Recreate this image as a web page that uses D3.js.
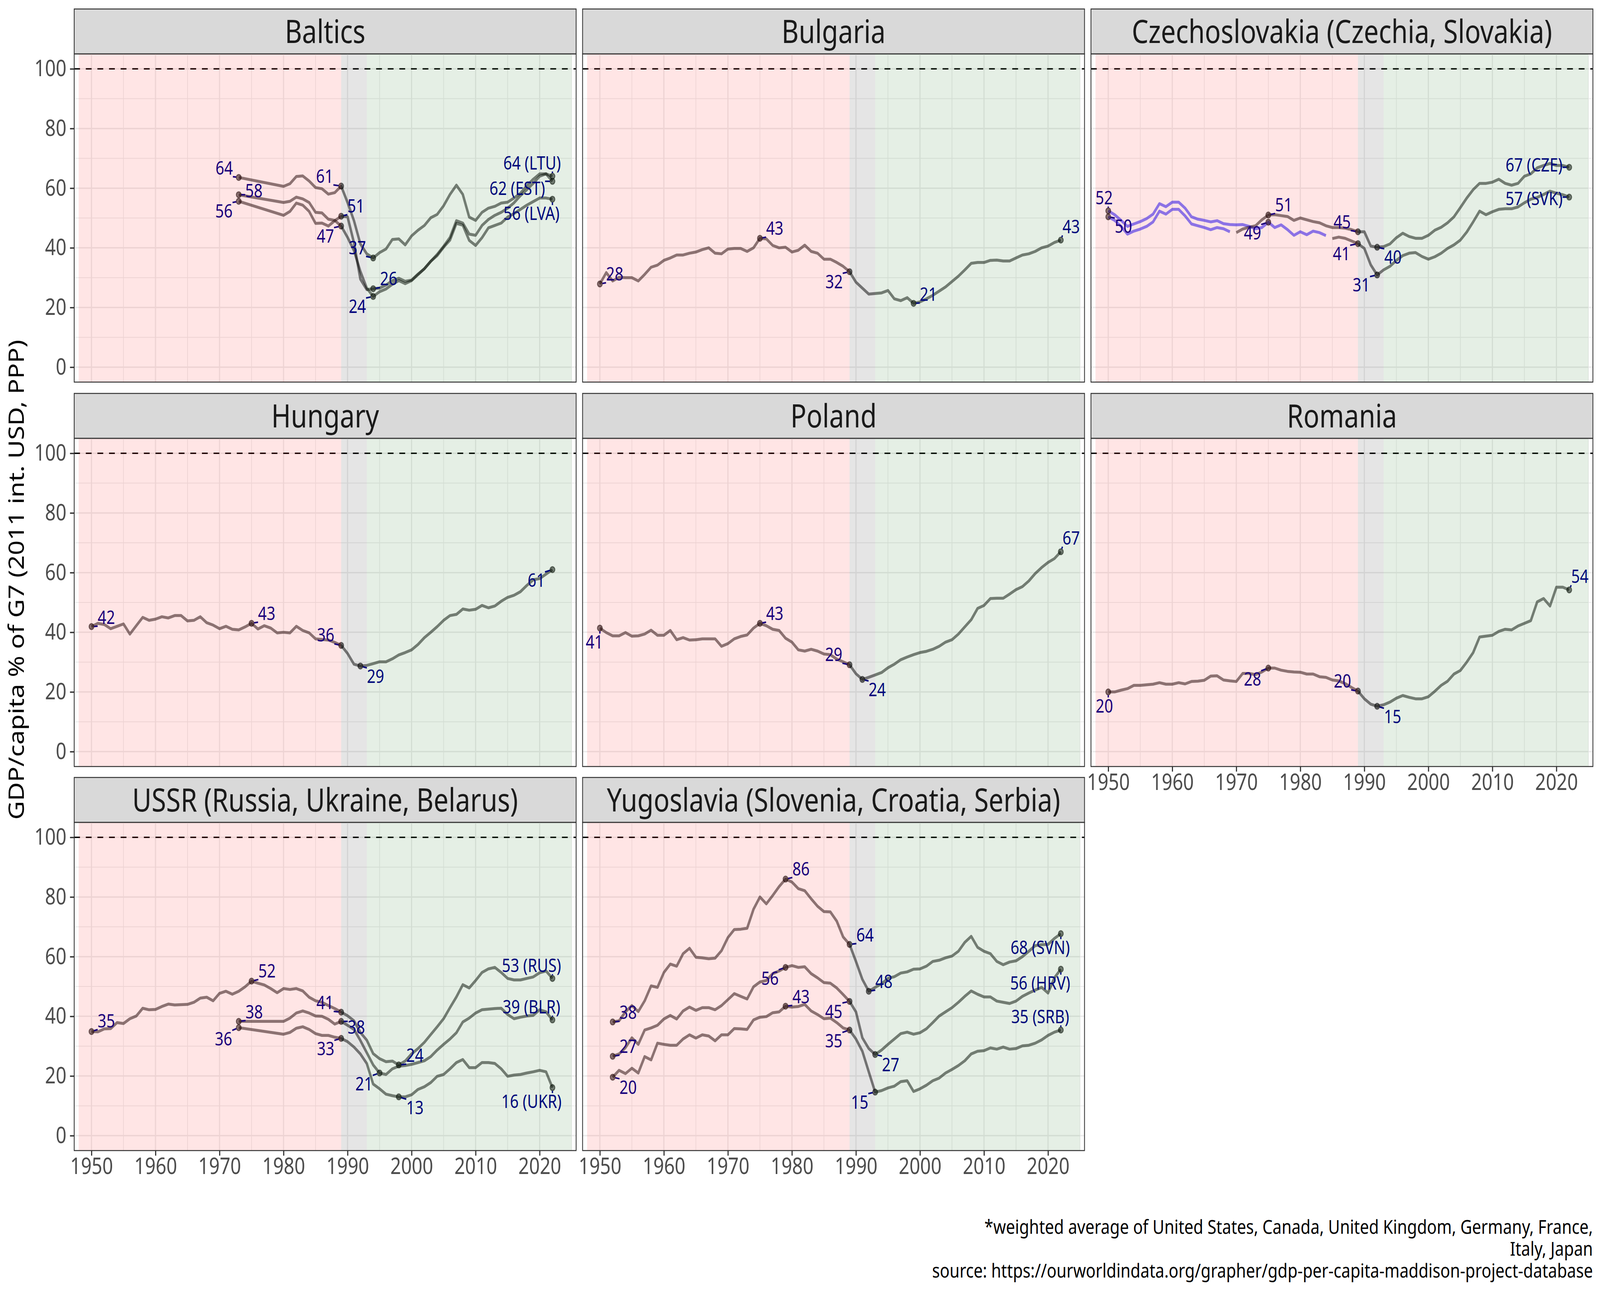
<!DOCTYPE html>
<html>
<head>
<meta charset="utf-8">
<script src="https://cdn.jsdelivr.net/npm/d3@7"></script>
<style>
  html, body { margin: 0; padding: 0; background: #fff; overflow: hidden; }
  #chart { display: block; width: 100vw; height: 100vh; }
  text { font-family: "Noto Sans", sans-serif; }
</style>
</head>
<body>
<svg id="chart"></svg>
<script>
// ---- data -------------------------------------------------------------
const xTicks = [1950, 1960, 1970, 1980, 1990, 2000, 2010, 2020];
const yTicks = [0, 20, 40, 60, 80, 100];
const eraStarts = [1948, 1989, 1993];
const eraEnds = [1989, 1993, 2025];
const g7Level = 100;

// Baltics and the later Soviet republics: 1973, then 1980-2022
const sovYears = [1973].concat(d3.range(1980, 2023));
const estValues = [63.6, 60.6, 61.5, 63.9, 64.1, 62.4, 60.2, 59.8, 58.0, 58.5, 60.7,
  55.2, 49.1, 41.3, 38.0, 36.6, 38.4, 39.6, 42.8, 43.0, 41.0,
  44.0, 45.9, 47.5, 50.1, 51.2, 54.1, 57.9, 61.0, 57.9, 50.3,
  49.2, 51.9, 53.3, 53.9, 55.0, 55.3, 56.7, 58.3, 60.8, 63.0,
  64.8, 64.8, 62.3];
const lvaValues = [57.8, 55.2, 55.6, 57.0, 56.4, 55.2, 51.9, 51.7, 49.6, 49.2, 47.3,
  43.5, 39.1, 32.1, 26.5, 23.7, 25.3, 26.2, 27.8, 29.0, 28.0,
  29.0, 31.0, 33.0, 35.5, 37.4, 40.2, 42.6, 48.2, 47.6, 42.5,
  40.8, 43.4, 46.7, 47.5, 48.3, 50.3, 51.5, 52.9, 54.3, 55.5,
  56.7, 56.7, 56.3];
const ltuValues = [55.6, 50.9, 52.2, 55.0, 54.3, 52.2, 48.2, 48.3, 47.3, 49.1, 50.6,
  50.4, 41.7, 29.5, 26.0, 26.3, 26.5, 27.5, 29.0, 29.8, 28.8,
  29.2, 31.2, 33.0, 35.5, 37.8, 40.5, 43.5, 49.1, 48.3, 44.6,
  44.2, 47.5, 49.5, 50.9, 51.9, 53.3, 55.1, 57.5, 59.5, 61.6,
  64.0, 64.8, 64.0];

const fullYears = d3.range(1950, 2023);
const bgrValues = [27.9, 31.7, 28.9, 30.1, 30.0, 30.0, 28.9, 31.1, 33.5, 34.2,
  35.8, 36.6, 37.6, 37.6, 38.2, 38.6, 39.4, 40.0, 38.2, 38.0,
  39.6, 39.8, 39.8, 38.8, 40.0, 43.2, 43.0, 40.8, 40.0, 40.2,
  38.6, 39.2, 40.9, 38.8, 38.2, 36.2, 36.2, 35.1, 33.8, 32.0,
  28.5, 26.5, 24.5, 24.7, 24.9, 25.7, 22.9, 22.3, 23.3, 21.4,
  21.9, 22.9, 24.1, 25.5, 26.9, 28.7, 30.5, 32.6, 34.8, 35.1,
  35.1, 35.8, 35.9, 35.6, 35.6, 36.6, 37.6, 38.0, 38.8, 40.0,
  40.6, 41.8, 42.6];

const czePurpleYears = d3.range(1950, 1985);
const czePurpleValues = [52.4, 51.1, 49.2, 47.2, 48.0, 48.8, 49.8, 51.3, 54.8, 53.8,
  55.3, 55.3, 53.3, 50.4, 49.6, 49.2, 48.7, 49.1, 48.1, 47.8,
  47.7, 47.8, 47.2, 46.4, 46.8, 48.6, 46.8, 47.7, 46.1, 44.2,
  45.4, 44.4, 45.6, 45.1, 44.1];
const svkPurpleYears = d3.range(1950, 1970);
const svkPurpleValues = [50.4, 49.2, 47.2, 44.6, 45.6, 46.3, 47.2, 48.7, 52.3, 51.3,
  52.9, 52.9, 50.7, 48.0, 47.4, 46.8, 46.1, 46.8, 46.4, 45.4];
const czeGreyYears = d3.range(1970, 2023);
const czeGreyValues = [45.1, 46.3, 46.9, 47.4, 49.4, 51.0, 51.1, 50.8, 50.5, 49.2,
  50.0, 49.4, 48.8, 48.4, 47.4, 46.8, 46.8, 46.6, 46.1, 45.4,
  45.4, 40.6, 40.2, 40.4, 41.3, 43.4, 44.9, 43.8, 43.2, 43.2,
  44.2, 45.9, 46.9, 48.4, 50.4, 53.5, 56.7, 59.5, 61.6, 61.6,
  62.0, 63.0, 61.6, 61.0, 61.6, 64.0, 64.8, 66.8, 67.6, 68.3,
  67.6, 67.6, 67.0];
const svkGreyYears = d3.range(1985, 2023);
const svkGreyValues = [43.1, 43.6, 43.2, 42.3, 41.4,
  39.8, 34.3, 30.9, 32.6, 33.8, 35.8, 37.4, 38.2, 38.4, 37.1,
  36.2, 37.0, 38.2, 39.8, 41.0, 42.6, 45.3, 48.7, 52.3, 51.1,
  52.1, 52.9, 53.1, 53.1, 53.7, 55.1, 56.3, 56.9, 57.9, 59.0,
  58.3, 57.8, 57.0];

const hunValues = [41.9, 43.0, 42.6, 41.2, 42.0, 42.8, 39.4, 42.2, 45.0, 44.0,
  44.4, 45.2, 44.8, 45.6, 45.6, 43.8, 44.0, 45.2, 43.2, 42.4,
  41.2, 42.0, 41.0, 40.8, 41.8, 43.0, 41.1, 42.2, 41.4, 39.8,
  40.0, 39.8, 42.0, 40.6, 39.8, 37.8, 37.6, 37.4, 36.6, 35.6,
  32.9, 29.3, 28.7, 28.9, 29.5, 30.1, 30.1, 31.1, 32.4, 33.2,
  34.1, 35.9, 38.2, 40.0, 41.9, 44.0, 45.6, 46.0, 47.8, 47.4,
  47.7, 49.0, 48.2, 48.8, 50.4, 51.7, 52.4, 53.6, 55.7, 57.6,
  58.0, 59.5, 61.0];
const polValues = [41.4, 39.9, 38.8, 38.8, 39.9, 38.7, 38.8, 39.4, 40.7, 39.0,
  39.0, 40.6, 37.5, 38.2, 37.4, 37.5, 37.8, 37.8, 37.8, 35.3,
  36.2, 37.8, 38.6, 39.1, 41.4, 43.0, 42.2, 41.0, 40.6, 38.0,
  36.7, 34.1, 33.7, 34.3, 33.7, 32.7, 32.5, 31.0, 30.1, 29.1,
  26.1, 24.2, 24.9, 25.7, 26.5, 28.1, 29.3, 30.8, 31.7, 32.5,
  33.2, 33.6, 34.3, 35.3, 36.7, 37.5, 39.4, 41.8, 44.2, 48.0,
  49.0, 51.3, 51.4, 51.4, 52.8, 54.3, 55.3, 57.2, 59.7, 61.7,
  63.4, 64.7, 67.0];
const rouValues = [20.0, 20.0, 20.6, 21.1, 22.2, 22.2, 22.4, 22.6, 23.1, 22.6,
  22.6, 23.1, 22.7, 23.5, 23.6, 23.9, 25.3, 25.4, 24.0, 23.7,
  23.5, 26.2, 26.2, 25.8, 26.7, 28.0, 28.0, 27.3, 26.9, 26.7,
  26.6, 26.0, 26.0, 25.1, 24.9, 24.0, 23.7, 22.8, 21.5, 20.3,
  17.7, 15.9, 15.2, 15.7, 16.6, 17.9, 18.8, 18.2, 17.7, 17.7,
  18.4, 20.2, 22.2, 23.6, 26.0, 27.2, 30.0, 33.2, 38.4, 38.7,
  39.0, 40.3, 41.0, 40.8, 42.1, 43.0, 43.9, 50.2, 51.3, 48.8,
  55.1, 55.1, 54.2];

const rusValues = [34.9, 34.8, 35.8, 35.9, 37.9, 37.6, 39.2, 40.1, 42.7, 42.2,
  42.3, 43.3, 44.1, 43.8, 43.9, 44.0, 44.7, 46.1, 46.4, 45.2,
  47.7, 48.4, 47.4, 48.4, 49.9, 51.8, 51.1, 50.5, 49.3, 47.9,
  49.3, 49.0, 49.3, 48.5, 46.4, 45.2, 44.7, 43.6, 42.6, 41.4,
  40.2, 38.5, 34.6, 32.0, 27.5, 25.8, 24.8, 25.0, 23.7, 25.0,
  27.4, 29.2, 31.3, 33.9, 36.5, 39.2, 42.9, 46.5, 50.6, 49.5,
  52.0, 54.7, 55.9, 56.4, 54.7, 52.7, 52.2, 52.2, 52.7, 53.2,
  54.6, 55.2, 52.7];
const blrValues = [38.3, 38.3, 39.4, 41.1, 41.8, 41.1, 40.1, 40.0, 39.0, 37.4, 38.3,
  37.0, 35.6, 31.9, 27.8, 23.7, 21.0, 20.5, 22.4, 23.3, 23.5,
  23.9, 24.5, 25.1, 26.5, 28.7, 30.6, 32.4, 34.5, 38.1, 39.4,
  41.1, 42.2, 42.4, 42.6, 42.7, 40.6, 39.2, 39.7, 40.1, 40.3,
  42.2, 41.5, 38.8];
const ukrValues = [36.2, 34.0, 34.6, 36.0, 36.5, 35.6, 34.2, 33.6, 33.6, 33.0, 32.6,
  31.5, 29.7, 27.4, 24.2, 17.3, 15.7, 13.9, 13.4, 13.0, 13.0,
  13.7, 15.5, 16.4, 17.8, 19.9, 20.5, 22.4, 24.5, 25.5, 22.8,
  22.8, 24.5, 24.5, 24.2, 22.4, 19.9, 20.3, 20.5, 21.0, 21.4,
  21.9, 21.4, 16.1];

const yugYears = d3.range(1952, 2023);
const svnValues = [38.1, 38.5, 41.5, 43.6, 41.6, 45.2, 50.2, 49.7,
  54.7, 57.5, 56.8, 61.0, 62.8, 59.8, 59.6, 59.3, 59.5, 62.0,
  66.4, 69.1, 69.2, 69.5, 75.9, 80.0, 77.7, 80.5, 83.5, 86.0,
  85.0, 82.8, 82.1, 79.4, 76.9, 75.1, 75.0, 71.9, 66.6, 64.1,
  58.4, 52.4, 48.4, 49.7, 50.9, 52.7, 53.3, 54.5, 54.9, 55.8,
  55.9, 56.8, 58.4, 58.8, 59.6, 60.2, 61.8, 64.8, 66.8, 63.1,
  61.8, 61.0, 58.4, 57.3, 58.2, 58.6, 60.0, 61.8, 63.7, 64.0,
  64.1, 66.1, 67.7];
const hrvValues = [26.6, 27.4, 29.5, 32.8, 30.6, 35.4, 36.1, 37.0,
  39.1, 40.3, 39.1, 41.8, 43.1, 42.0, 42.9, 42.9, 42.2, 43.6,
  45.6, 47.6, 46.7, 45.8, 49.9, 51.5, 52.0, 54.3, 55.2, 56.4,
  57.0, 56.4, 56.6, 54.3, 52.9, 51.3, 51.1, 49.5, 47.3, 45.0,
  41.5, 32.8, 29.2, 27.2, 28.7, 30.6, 32.4, 34.2, 34.7, 34.0,
  34.5, 35.8, 37.9, 40.1, 41.5, 42.9, 44.7, 46.7, 48.5, 47.4,
  46.5, 46.5, 45.1, 44.7, 44.3, 45.1, 46.7, 47.8, 48.8, 49.7,
  47.8, 52.9, 55.8];
const srbValues = [19.6, 21.9, 20.8, 22.6, 21.0, 26.5, 25.4, 31.0,
  30.6, 30.3, 30.3, 32.4, 33.8, 32.7, 33.8, 33.4, 31.8, 33.8,
  33.8, 35.9, 35.8, 35.6, 38.8, 39.7, 39.9, 41.2, 41.5, 43.4,
  43.1, 43.3, 44.0, 41.8, 40.6, 39.2, 39.4, 37.9, 36.1, 35.4,
  32.4, 28.3, 21.4, 14.6, 15.1, 16.0, 16.6, 18.1, 18.4, 14.8,
  15.7, 16.9, 18.4, 19.3, 21.0, 22.2, 23.5, 25.1, 27.4, 28.3,
  28.5, 29.4, 29.0, 29.7, 29.0, 29.2, 30.1, 30.3, 31.0, 32.1,
  33.6, 34.7, 35.4];

// labelled points: [series, year, suffix]
const baltLabels = [["EST", 1973, ""], ["LVA", 1973, ""], ["LTU", 1973, ""],
  ["EST", 1989, ""], ["LTU", 1989, ""], ["LVA", 1989, ""],
  ["EST", 1994, ""], ["LTU", 1994, ""], ["LVA", 1994, ""],
  ["LTU", 2022, "(LTU)"], ["EST", 2022, "(EST)"], ["LVA", 2022, "(LVA)"]];
const bgrLabels = [["BGR", 1950, ""], ["BGR", 1975, ""], ["BGR", 1989, ""], ["BGR", 1999, ""], ["BGR", 2022, ""]];
const czLabels = [["CZP", 1950, ""], ["SKP", 1950, ""], ["CZE", 1975, ""], ["CZP", 1975, ""],
  ["CZE", 1989, ""], ["SVK", 1989, ""], ["CZE", 1992, ""], ["SVK", 1992, ""],
  ["CZE", 2022, "(CZE)"], ["SVK", 2022, "(SVK)"]];
const hunLabels = [["HUN", 1950, ""], ["HUN", 1975, ""], ["HUN", 1989, ""], ["HUN", 1992, ""], ["HUN", 2022, ""]];
const polLabels = [["POL", 1950, ""], ["POL", 1975, ""], ["POL", 1989, ""], ["POL", 1991, ""], ["POL", 2022, ""]];
const rouLabels = [["ROU", 1950, ""], ["ROU", 1975, ""], ["ROU", 1989, ""], ["ROU", 1992, ""], ["ROU", 2022, ""]];
const ussrLabels = [["RUS", 1950, ""], ["RUS", 1975, ""], ["BLR", 1973, ""], ["UKR", 1973, ""],
  ["RUS", 1989, ""], ["BLR", 1989, ""], ["UKR", 1989, ""], ["BLR", 1995, ""],
  ["RUS", 1998, ""], ["UKR", 1998, ""],
  ["RUS", 2022, "(RUS)"], ["BLR", 2022, "(BLR)"], ["UKR", 2022, "(UKR)"]];
const yugLabels = [["SVN", 1952, ""], ["HRV", 1952, ""], ["SRB", 1952, ""],
  ["SVN", 1979, ""], ["HRV", 1979, ""], ["SRB", 1979, ""],
  ["SVN", 1989, ""], ["HRV", 1989, ""], ["SRB", 1989, ""],
  ["SVN", 1992, ""], ["HRV", 1993, ""], ["SRB", 1993, ""],
  ["SVN", 2022, "(SVN)"], ["HRV", 2022, "(HRV)"], ["SRB", 2022, "(SRB)"]];

// ---- layout -------------------------------------------------------------
const W = 4960, H = 3307;
const PANEL_W = 1556, PANEL_H = 840, STRIP_H = 115;
const COL_X = [230, 1806, 3382];
const ROW_Y = [23, 1007, 1990];
const LINE_GREY = '#000', LINE_BLUE = '#0000ff';
const ERA_FILL = ['rgba(255,0,0,0.1)', 'rgba(0,0,0,0.1)', 'rgba(0,100,0,0.1)'];

// where the repelled labels ended up, px offset of the label centre from its point
const labelNudge = {
  Baltics: [[-45, -24], [47, -10], [-46, 25], [-51, -25], [46, -26], [-49, 26],
            [-49, -26], [48, -25], [-49, 26], [-63, -34], [-109, 18], [-65, 37]],
  Bulgaria: [[46, -25], [46, -25], [-48, 26], [46, -23], [32, -34]],
  Czech: [[-13, -33], [47, 25], [48, -26], [-49, 28], [-49, -25], [-51, 26],
          [49, 26], [-49, 26], [-109, -6], [-109, 4]],
  Hungary: [[46, -23], [47, -25], [-48, -26], [47, 27], [-50, 28]],
  Poland: [[-17, 36], [46, -25], [-49, -26], [46, 26], [32, -35]],
  Romania: [[-12, 36], [-49, 29], [-48, -25], [48, 27], [33, -34]],
  USSR: [[46, -27], [48, -26], [48, -24], [-47, 29], [-50, -24], [47, 15], [-48, 27],
         [-48, 28], [50, -24], [50, 28], [-65, -33], [-65, -33], [-65, 36]],
  Yugo: [[48, -24], [48, -25], [48, 26], [48, -26], [-48, 28], [48, -24], [48, -24],
         [-49, 26], [-49, 28], [47, -25], [48, 26], [-48, 26], [-64, 36], [-64, 36], [-64, -34]]
};

const panels = [
  { title: 'Baltics', col: 0, row: 0, nudge: 'Baltics', labels: baltLabels, series: [
    { key: 'EST', years: sovYears, values: estValues, color: LINE_GREY },
    { key: 'LVA', years: sovYears, values: lvaValues, color: LINE_GREY },
    { key: 'LTU', years: sovYears, values: ltuValues, color: LINE_GREY }] },
  { title: 'Bulgaria', col: 1, row: 0, nudge: 'Bulgaria', labels: bgrLabels, series: [
    { key: 'BGR', years: fullYears, values: bgrValues, color: LINE_GREY }] },
  { title: 'Czechoslovakia (Czechia, Slovakia)', col: 2, row: 0, nudge: 'Czech', labels: czLabels, series: [
    { key: 'CZP', years: czePurpleYears, values: czePurpleValues, color: LINE_BLUE },
    { key: 'SKP', years: svkPurpleYears, values: svkPurpleValues, color: LINE_BLUE },
    { key: 'CZE', years: czeGreyYears, values: czeGreyValues, color: LINE_GREY },
    { key: 'SVK', years: svkGreyYears, values: svkGreyValues, color: LINE_GREY }] },
  { title: 'Hungary', col: 0, row: 1, nudge: 'Hungary', labels: hunLabels, series: [
    { key: 'HUN', years: fullYears, values: hunValues, color: LINE_GREY }] },
  { title: 'Poland', col: 1, row: 1, nudge: 'Poland', labels: polLabels, series: [
    { key: 'POL', years: fullYears, values: polValues, color: LINE_GREY }] },
  { title: 'Romania', col: 2, row: 1, nudge: 'Romania', labels: rouLabels, xAxis: true, series: [
    { key: 'ROU', years: fullYears, values: rouValues, color: LINE_GREY }] },
  { title: 'USSR (Russia, Ukraine, Belarus)', col: 0, row: 2, nudge: 'USSR', labels: ussrLabels, xAxis: true, series: [
    { key: 'RUS', years: fullYears, values: rusValues, color: LINE_GREY },
    { key: 'BLR', years: sovYears, values: blrValues, color: LINE_GREY },
    { key: 'UKR', years: sovYears, values: ukrValues, color: LINE_GREY }] },
  { title: 'Yugoslavia (Slovenia, Croatia, Serbia)', col: 1, row: 2, nudge: 'Yugo', labels: yugLabels, xAxis: true, series: [
    { key: 'SVN', years: yugYears, values: svnValues, color: LINE_GREY },
    { key: 'HRV', years: yugYears, values: hrvValues, color: LINE_GREY },
    { key: 'SRB', years: yugYears, values: srbValues, color: LINE_GREY }] }
];

// ---- drawing ------------------------------------------------------------
// the drawing lives in a fixed 4960x3307 frame that is stretched to the window
const svg = d3.select('#chart')
  .attr('viewBox', `0 0 ${W} ${H}`)
  .attr('preserveAspectRatio', 'none');
svg.append('rect').attr('width', W).attr('height', H).attr('fill', '#fff');

const x = d3.scaleLinear().domain([1947.3, 2025.7]).range([0, PANEL_W]);
const y = d3.scaleLinear().domain([-5, 105]).range([PANEL_H, 0]);
const line = d3.line().x(d => x(d[0])).y(d => y(d[1]));

const xMajor = xTicks, xMinor = d3.range(1955, 2026, 10);
const yMajor = yTicks, yMinor = d3.range(10, 100, 20);
const defs = svg.append('defs');

panels.forEach((p, i) => {
  const gx = COL_X[p.col], gy = ROW_Y[p.row];

  // strip
  const strip = svg.append('g').attr('transform', `translate(${gx},${gy})`);
  strip.append('rect')
      .attr('width', PANEL_W).attr('height', STRIP_H)
      .attr('fill', '#d9d9d9').attr('stroke', '#333').attr('stroke-width', 2.5);
  strip.append('text')
      .attr('x', PANEL_W / 2).attr('y', 86.5)
      .attr('text-anchor', 'middle')
      .attr('font-size', 82).attr('fill', '#1a1a1a')
      .text(p.title);

  const g = svg.append('g').attr('transform', `translate(${gx},${gy + STRIP_H})`);
  defs.append('clipPath').attr('id', 'clip' + i)
    .append('rect').attr('width', PANEL_W).attr('height', PANEL_H);
  const body = g.append('g').attr('clip-path', `url(#clip${i})`);

  // grid
  body.selectAll('line.xmin').data(xMinor).join('line')
      .attr('x1', d => x(d)).attr('x2', d => x(d)).attr('y1', 0).attr('y2', PANEL_H)
      .attr('stroke', '#ebebeb').attr('stroke-width', 2);
  body.selectAll('line.ymin').data(yMinor).join('line')
      .attr('y1', d => y(d)).attr('y2', d => y(d)).attr('x1', 0).attr('x2', PANEL_W)
      .attr('stroke', '#ebebeb').attr('stroke-width', 2);
  body.selectAll('line.xmaj').data(xMajor).join('line')
      .attr('x1', d => x(d)).attr('x2', d => x(d)).attr('y1', 0).attr('y2', PANEL_H)
      .attr('stroke', '#ebebeb').attr('stroke-width', 3.5);
  body.selectAll('line.ymaj').data(yMajor).join('line')
      .attr('y1', d => y(d)).attr('y2', d => y(d)).attr('x1', 0).attr('x2', PANEL_W)
      .attr('stroke', '#ebebeb').attr('stroke-width', 3.5);

  // G7 reference
  body.append('line')
      .attr('x1', 0).attr('x2', PANEL_W).attr('y1', y(g7Level)).attr('y2', y(g7Level))
      .attr('stroke', '#000').attr('stroke-width', 3.5).attr('stroke-dasharray', '18,18');

  // series
  const byKey = {};
  p.series.forEach(s => {
    byKey[s.key] = s;
    body.append('path')
        .datum(s.years.map((yr, k) => [yr, s.values[k]]))
        .attr('d', line)
        .attr('fill', 'none')
        .attr('stroke', s.color).attr('stroke-opacity', 0.5)
        .attr('stroke-width', 7.5)
        .attr('stroke-linejoin', 'round');
  });

  // labelled points
  const nudges = labelNudge[p.nudge];
  const marks = p.labels.map((lb, k) => {
    const s = byKey[lb[0]];
    const v = s.values[s.years.indexOf(lb[1])];
    return { px: x(lb[1]), py: y(v), v: v, suffix: lb[2], dx: nudges[k][0], dy: nudges[k][1] };
  });

  body.selectAll('circle.pt').data(marks).join('circle')
      .attr('cx', d => d.px).attr('cy', d => d.py).attr('r', 7.5)
      .attr('fill', '#000').attr('fill-opacity', 0.5)
      .attr('stroke', '#000').attr('stroke-opacity', 0.5).attr('stroke-width', 3);

  const segs = body.append('g'), texts = body.append('g');
  marks.forEach(d => {
    const t = texts.append('text')
        .attr('x', d.px + d.dx).attr('y', d.py + d.dy + 16.5)
        .attr('text-anchor', 'middle')
        .attr('font-size', 47).attr('fill', '#00008B')
        .text(Math.round(d.v) + (d.suffix ? ' ' + d.suffix : ''));
    const hw = t.node().getComputedTextLength() / 2, hh = 22;
    const nx = Math.max(d.dx - hw, Math.min(0, d.dx + hw));
    const ny = Math.max(d.dy - hh, Math.min(0, d.dy + hh));
    const dist = Math.hypot(nx, ny);
    if (dist > 10) {
      const k0 = 8 / dist;
      segs.append('line')
          .attr('x1', d.px + nx * k0).attr('y1', d.py + ny * k0)
          .attr('x2', d.px + nx).attr('y2', d.py + ny)
          .attr('stroke', '#00008B').attr('stroke-width', 4);
    }
  });

  // regime shading on top, as in the original layering
  body.selectAll('rect.era').data(eraStarts).join('rect')
      .attr('x', (d, k) => x(d)).attr('width', (d, k) => x(eraEnds[k]) - x(d))
      .attr('y', 0).attr('height', PANEL_H)
      .attr('fill', (d, k) => ERA_FILL[k]);

  g.append('rect')
      .attr('width', PANEL_W).attr('height', PANEL_H)
      .attr('fill', 'none').attr('stroke', '#333').attr('stroke-width', 2.5);

  // axes
  if (p.col === 0) {
    const ya = g.append('g').call(d3.axisLeft(y).tickValues(yTicks).tickSize(13).tickPadding(11));
    ya.select('.domain').remove();
    ya.selectAll('line').attr('stroke', '#333').attr('stroke-width', 3.5);
    ya.selectAll('text').attr('font-size', 58).attr('fill', '#4d4d4d')
      .attr('font-family', '"Noto Sans", sans-serif');
  }
  if (p.xAxis) {
    const xa = g.append('g').attr('transform', `translate(0,${PANEL_H})`)
      .call(d3.axisBottom(x).tickValues(xTicks).tickFormat(d3.format('d')).tickSize(13).tickPadding(6));
    xa.select('.domain').remove();
    xa.selectAll('line').attr('stroke', '#333').attr('stroke-width', 3.5);
    xa.selectAll('text').attr('font-size', 58).attr('fill', '#4d4d4d')
      .attr('font-family', '"Noto Sans", sans-serif');
  }
});

// y axis title
svg.append('text')
    .attr('transform', `translate(74,${(ROW_Y[0] + ROW_Y[2] + STRIP_H + PANEL_H) / 2}) rotate(-90)`)
    .attr('text-anchor', 'middle')
    .attr('font-size', 66).attr('fill', '#000')
    .text('GDP/capita % of G7 (2011 int. USD, PPP)');

// caption, one text block with three lines
const caption = [
  '*weighted average of United States, Canada, United Kingdom, Germany, France,',
  'Italy, Japan',
  'source: https://ourworldindata.org/grapher/gdp-per-capita-maddison-project-database'
];
const capX = COL_X[2] + PANEL_W;
svg.append('text')
    .attr('x', capX).attr('y', 3158)
    .attr('text-anchor', 'end')
    .attr('font-size', 50).attr('fill', '#000')
  .selectAll('tspan').data(caption).join('tspan')
    .attr('x', capX).attr('dy', (d, k) => k === 0 ? 0 : 56)
    .text(d => d);
</script>
</body>
</html>
